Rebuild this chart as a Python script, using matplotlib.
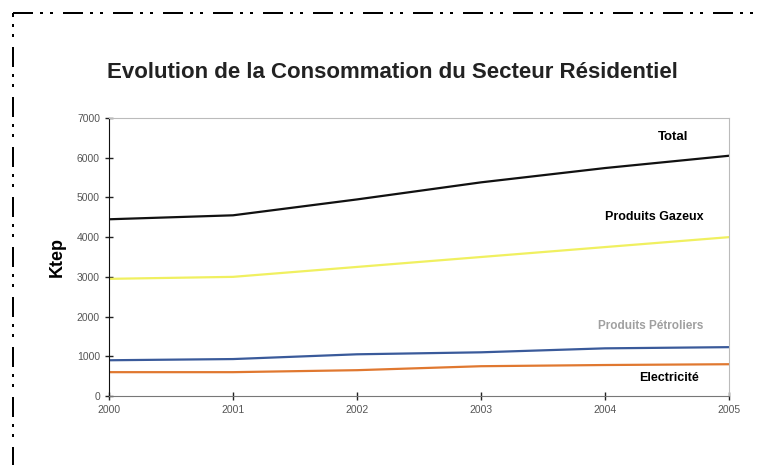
import matplotlib.pyplot as plt
from matplotlib.lines import Line2D

plt.rcParams["font.family"] = ["Liberation Sans", "DejaVu Sans"]

years = [2000, 2001, 2002, 2003, 2004, 2005]
total = [4450, 4550, 4950, 5380, 5740, 6050]
gazeux = [2950, 3000, 3250, 3500, 3750, 4000]
petroliers = [900, 930, 1050, 1100, 1200, 1230]
electricite = [600, 600, 650, 750, 780, 800]

fig = plt.figure(figsize=(7.59, 4.65), dpi=100)
ax = fig.add_axes([0.1436, 0.1484, 0.8169, 0.5978])

ax.plot(years, total, color="#111111", lw=1.6)
ax.plot(years, gazeux, color="#f0f060", lw=1.6)
ax.plot(years, petroliers, color="#3a5a9a", lw=1.6)
ax.plot(years, electricite, color="#e07830", lw=1.6)

ax.set_xlim(2000, 2005)
ax.set_ylim(0, 7000)
ax.set_xticks(years)
ax.set_yticks(range(0, 7001, 1000))
ax.tick_params(direction="inout", length=6, width=1, labelsize=7.5,
               labelcolor="#555555", color="#222222")
for s in ["top", "right"]:
    ax.spines[s].set_color("#bbbbbb")
ax.spines["bottom"].set_color("#777777")
ax.spines["left"].set_color("#111111")
ax.set_ylabel("Ktep", fontsize=13, fontweight="bold", labelpad=8)

# series labels next to the lines
ax.text(2004.55, 6520, "Total", fontsize=9.5, fontweight="bold", ha="center", va="center")
ax.text(2004.40, 4500, "Produits Gazeux", fontsize=9, fontweight="bold", ha="center", va="center")
ax.text(2004.37, 1750, "Produits Pétroliers", fontsize=8.5, fontweight="bold",
        ha="center", va="center", color="#a0a0a0")
ax.text(2004.52, 450, "Electricité", fontsize=9, fontweight="bold", ha="center", va="center")

fig.text(0.517, 0.845, "Evolution de la Consommation du Secteur Résidentiel",
         fontsize=16, fontweight="bold", ha="center", va="center", color="#222222")

# dash-dot-dot frame, top and left edges
x0, y0 = 13 / 759, 1 - 13 / 465
pattern = (10, 3.5, 1.5, 3.5, 1.5, 5)
fig.add_artist(Line2D([x0, 1.0], [y0, y0], transform=fig.transFigure,
                      color="black", lw=1.44, linestyle=(0, pattern)))
fig.add_artist(Line2D([x0, x0], [y0, 0.0], transform=fig.transFigure,
                      color="black", lw=1.44, linestyle=(8, pattern)))

fig.savefig("out.png")
